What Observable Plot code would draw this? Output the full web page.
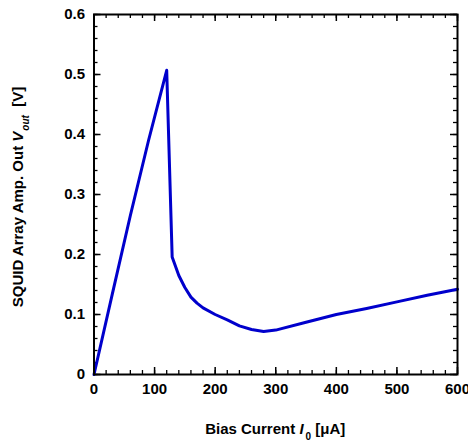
<!DOCTYPE html>
<html><head><meta charset="utf-8">
<script src="https://cdn.jsdelivr.net/npm/d3@7"></script>
<script src="https://cdn.jsdelivr.net/npm/@observablehq/plot@0.6"></script>
<style>body{margin:0;background:#fff}</style>
</head><body><div id="chart"></div>
<script>
// Data
const biasCurrent = [0, 30, 60, 90, 120, 129, 140, 150, 160, 170, 180, 200, 220, 240, 260, 280, 300, 350, 400, 450, 500, 550, 600];
const vout        = [0, 0.133, 0.265, 0.39, 0.507, 0.196, 0.165, 0.145, 0.129, 0.119, 0.111, 0.1, 0.091, 0.081, 0.075, 0.0715, 0.074, 0.087, 0.1, 0.11, 0.121, 0.132, 0.142];
const xTicks = [0, 100, 200, 300, 400, 500, 600];
const xTickLabels = ["0", "100", "200", "300", "400", "500", "600"];
const yTicks = [0, 0.1, 0.2, 0.3, 0.4, 0.5, 0.6];
const yTickLabels = ["0", "0.1", "0.2", "0.3", "0.4", "0.5", "0.6"];
const xMinor = d3.range(0, 601, 20);
const yMinor = d3.range(0, 31).map(i => i * 0.02);

const data = biasCurrent.map((x, i) => ({x, y: vout[i]}));

const W = 468, H = 444, mL = 93.5, mR = 11, mT = 14, mB = 70;
const pw = W - mL - mR, ph = H - mT - mB;
const font = "Liberation Sans, Arial, sans-serif";

const chart = Plot.plot({
  width: W, height: H,
  marginLeft: mL, marginRight: mR, marginTop: mT, marginBottom: mB,
  style: {fontFamily: font, fontSize: "15px", fontWeight: "bold", background: "white", color: "black", overflow: "visible"},
  x: {domain: [0, 600]},
  y: {domain: [0, 0.6]},
  marks: [
    // minor ticks on all sides (inward)
    Plot.tickX(xMinor, {x: d => d, insetTop: ph - 4, stroke: "black", strokeWidth: 1.3}),
    Plot.tickX(xMinor, {x: d => d, insetBottom: ph - 4, stroke: "black", strokeWidth: 1.3}),
    Plot.tickY(yMinor, {y: d => d, insetRight: pw - 4, stroke: "black", strokeWidth: 1.3}),
    Plot.tickY(yMinor, {y: d => d, insetLeft: pw - 4, stroke: "black", strokeWidth: 1.3}),
    // major ticks
    Plot.tickX(xTicks, {x: d => d, insetTop: ph - 7, stroke: "black", strokeWidth: 1.5}),
    Plot.tickX(xTicks, {x: d => d, insetBottom: ph - 7, stroke: "black", strokeWidth: 1.5}),
    Plot.tickY(yTicks, {y: d => d, insetRight: pw - 7, stroke: "black", strokeWidth: 1.5}),
    Plot.tickY(yTicks, {y: d => d, insetLeft: pw - 7, stroke: "black", strokeWidth: 1.5}),
    Plot.axisX(xTicks, {tickSize: 0, tickPadding: 9, label: null, tickFormat: (d, i) => xTickLabels[i],
      fontSize: 15, fontWeight: "bold"}),
    Plot.axisY(yTicks, {tickSize: 0, tickPadding: 9, label: null, tickFormat: (d, i) => yTickLabels[i],
      fontSize: 15, fontWeight: "bold"}),
    Plot.line(data, {x: "x", y: "y", stroke: "#0000cc", strokeWidth: 3, strokeLinejoin: "round"}),
    Plot.frame({stroke: "black", strokeWidth: 2})
  ]
});

const svg = d3.select(chart);
// X axis label
const xl = svg.append("text")
  .attr("x", mL + pw / 2).attr("y", 434)
  .attr("text-anchor", "middle")
  .style("font-family", font).style("font-size", "15px").style("font-weight", "bold");
xl.append("tspan").text("Bias Current ");
xl.append("tspan").style("font-style", "italic").text("I");
xl.append("tspan").attr("dx", 2).attr("dy", 6).style("font-size", "10px").text("0");
xl.append("tspan").attr("dy", -6).text(" [\u03BCA]");

// Y axis label
const yl = svg.append("text")
  .attr("transform", `translate(23,${mT + ph / 2 + 3}) rotate(-90)`)
  .attr("text-anchor", "middle")
  .style("font-family", font).style("font-size", "15px").style("font-weight", "bold");
yl.append("tspan").text("SQUID Array Amp. Out ");
yl.append("tspan").style("font-style", "italic").text("V");
yl.append("tspan").attr("dx", 1).attr("dy", 6).style("font-size", "10px").style("font-style", "italic").text("out");
yl.append("tspan").attr("dy", -6).text("  [V]");

document.getElementById("chart").append(chart);
</script>
</body></html>
